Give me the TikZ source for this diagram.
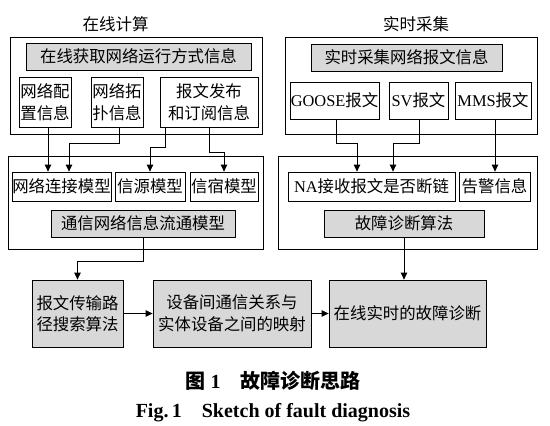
\documentclass[tikz,border=0pt]{standalone}
\usepackage{fontspec}
\setmainfont{Liberation Serif}
\newfontfamily\cjk{Noto Sans CJK SC}
\usetikzlibrary{arrows.meta}
\definecolor{boxgray}{RGB}{216,216,216}
\begin{document}
\begin{tikzpicture}[x=1pt,y=-1pt,
  bx/.style 2 args={draw, line width=0.8pt, inner sep=0pt, minimum width=#1pt, minimum height=#2pt, align=center,
    font=\fontsize{16.4}{21.5}\selectfont},
  gbx/.style 2 args={bx={#1}{#2}, fill=boxgray},
  arr/.style={line width=0.8pt, -{Triangle[length=7pt,width=6.5pt]}},
  ttl/.style={font=\fontsize{16.5}{20}\selectfont\cjk, inner sep=0pt}]
\useasboundingbox (0,0) rectangle (550,426);
% titles
\node[ttl] (t1) at (115.5,24) {在线计算};
\node[ttl] (t2) at (416,24) {实时采集};
% top left
\node[bx={252}{97}] (o1) at (136,85.5) {};
\node[gbx={225}{27}] (g1) at (138.5,56.5) {\cjk 在线获取网络运行方式信息};
\node[bx={52}{50}] (b1) at (45,102) {\cjk 网络配\\\cjk 置信息};
\node[bx={52}{50}] (b2) at (117,102) {\cjk 网络拓\\\cjk 扑信息};
\node[bx={98}{50}] (b3) at (209,102) {\cjk 报文发布\\\cjk 和订阅信息};
% top right
\node[bx={252}{97}] (o2) at (411,85.5) {};
\node[gbx={191}{27}] (g2) at (406.5,57.5) {\cjk 实时采集网络报文信息};
\node[bx={89}{37}] (r1) at (334.5,100.5) {GOOSE{\cjk 报文}};
\node[bx={59}{37}] (r2) at (418.5,100.5) {SV{\cjk 报文}};
\node[bx={76}{37}] (r3) at (493,100.5) {MMS{\cjk 报文}};
% middle left
\node[bx={255}{93}] (o3) at (135.5,202.5) {};
\node[bx={99}{29}] (m1) at (61.5,186.5) {\cjk 网络连接模型};
\node[bx={70}{29}] (m2) at (150,186.5) {\cjk 信源模型};
\node[bx={68}{29}] (m3) at (224,186.5) {\cjk 信宿模型};
\node[gbx={184}{27}] (g3) at (143,223.5) {\cjk 通信网络信息流通模型};
% middle right
\node[bx={259}{93}] (o4) at (407.5,202.5) {};
\node[bx={167}{29}] (n1) at (371.5,186.5) {NA{\cjk 接收报文是否断链}};
\node[bx={71}{29}] (n2) at (494.5,186.5) {\cjk 告警信息};
\node[gbx={160}{27}] (g4) at (404,223.5) {\cjk 故障诊断算法};
% bottom row
\node[gbx={91}{67}] (k1) at (77.5,313.5) {\cjk 报文传输路\\\cjk 径搜索算法};
\node[gbx={158}{67}] (k2) at (232,313.5) {\cjk 设备间通信关系与\\\cjk 实体设备之间的映射};
\node[gbx={157}{67}] (k3) at (407.5,313.5) {\cjk 在线实时的故障诊断};
% arrows top-left -> middle-left
\draw[arr] ([xshift=3pt]b1.south) -- ([xshift=3pt]b1.south |- m1.north);
\draw[arr] ([xshift=2pt]b2.south) -- ++(0,16) -| ([xshift=7.5pt]m1.north);
\draw[arr] ([xshift=-44pt]b3.south) -- ++(0,20) -| (m2.north);
\draw[arr] (b3.south) -- ++(0,25) -| (m3.north);
% arrows top-right -> middle-right
\draw[arr] ([xshift=1.5pt]r1.south) -- ++(0,24) -| ([xshift=-14.5pt]n1.north);
\draw[arr] ([xshift=0.5pt]r2.south) -- ++(0,24) -| ([xshift=21.5pt]n1.north);
\draw[arr] ([xshift=2pt]r3.south) -- ([xshift=2pt]r3.south |- n2.north);
% arrows to bottom row
\draw[arr] (g3.south) -- ++(0,24) -| (k1.north);
\draw[arr] (g4.south) -- (g4.south |- k3.north);
\draw[arr] (k1.east) -- (k2.west);
\draw[arr] (k2.east) -- (k3.west);
% captions
\node[inner sep=0pt, font=\fontsize{20}{24}\selectfont\bfseries] (c1) at (273,381)
  {{\cjk 图} 1\quad{\cjk 故障诊断思路}};
\node[inner sep=0pt, font=\fontsize{20}{24}\selectfont\bfseries] (c2) at (273,413)
  {Fig.\,1\quad Sketch of fault diagnosis};
\end{tikzpicture}
\end{document}
